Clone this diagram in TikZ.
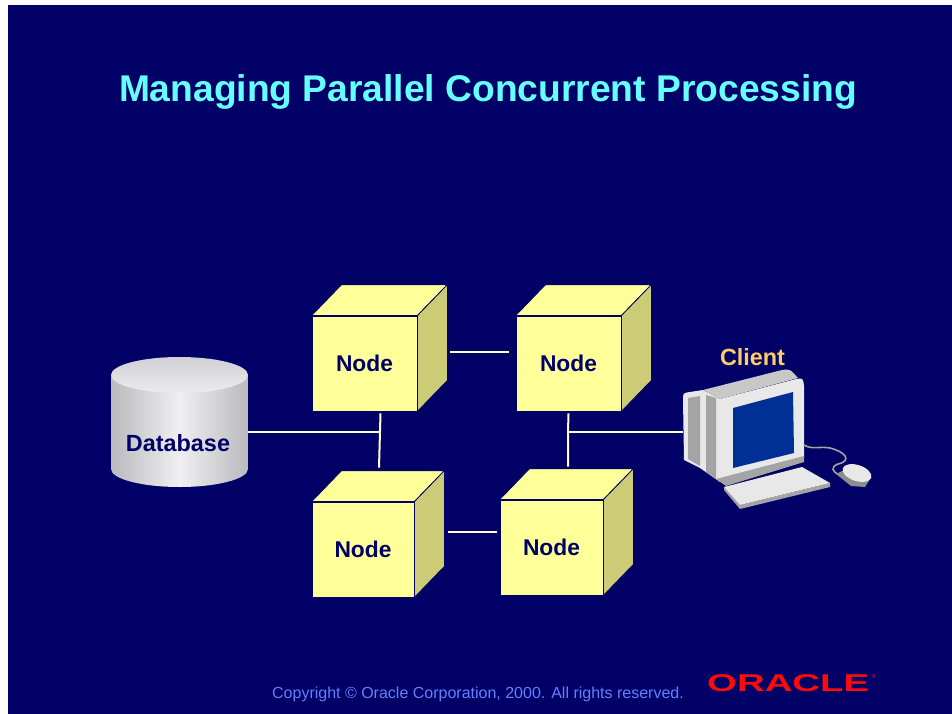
\documentclass[tikz,border=0pt]{standalone}
\usepackage{fontspec}
\setmainfont{Liberation Sans}
\usetikzlibrary{calc}

\definecolor{slidebg}{RGB}{0,0,102}
\definecolor{titlecol}{RGB}{102,255,255}
\definecolor{cubeFrontCol}{RGB}{255,255,153}
\definecolor{cubeSideCol}{RGB}{204,204,119}
\definecolor{labelnavy}{RGB}{0,0,102}
\definecolor{linkcol}{RGB}{255,255,224}
\definecolor{clientcol}{RGB}{255,204,102}
\definecolor{footcol}{RGB}{100,128,255}
\definecolor{oraclered}{RGB}{255,10,10}
\definecolor{dbEdgeCol}{RGB}{186,186,190}
\definecolor{dbMidCol}{RGB}{240,240,242}
\definecolor{dbTopA}{RGB}{208,208,212}
\definecolor{dbTopB}{RGB}{236,236,238}
\definecolor{pcLight}{RGB}{232,232,232}
\definecolor{pcMid}{RGB}{200,200,200}
\definecolor{pcDark}{RGB}{164,164,164}
\definecolor{pcDarker}{RGB}{140,140,140}
\definecolor{screenblue}{RGB}{0,48,150}

\begin{document}
\begin{tikzpicture}[x=1pt,y=-1pt,
  cube/.style={draw=slidebg, line width=0.8pt, fill=cubeFrontCol,
    minimum width=105pt, minimum height=95pt, inner sep=0pt,
    font=\fontsize{22.8}{26}\selectfont\bfseries, text=labelnavy},
  cubetop/.style={draw=slidebg, line width=0.8pt, fill=cubeFrontCol, line join=round},
  cubeflank/.style={draw=slidebg, line width=0.8pt, fill=cubeSideCol, line join=round},
  link/.style={draw=linkcol, line width=2pt},
  cable/.style={draw=pcDark, line width=1.6pt, line cap=round},
  boldlabel/.style={font=\fontsize{23.4}{26}\selectfont\bfseries, inner sep=0pt},
]
% page and slide background
\useasboundingbox (0,0) rectangle (952,714);
\fill[white] (0,0) rectangle (952,714);
\fill[slidebg] (8,5) rectangle (952,714);

% title
\node[anchor=base, text=titlecol, font=\fontsize{37.2}{44}\selectfont\bfseries, inner sep=0pt]
  (title) at (488,102) {Managing Parallel Concurrent Processing};

% the four processing nodes (front faces)
\node[cube] (n1) at (364.5,363.5) {Node};
\node[cube] (n2) at (568.5,363.5) {Node};
\node[cube, minimum width=102pt] (n3) at (363,549.5) {Node};
\node[cube, minimum width=103pt] (n4) at (551.5,547.5) {Node};

% top and side faces of the cubes
\foreach \n in {n1,n2,n3,n4}{
  \filldraw[cubetop] (\n.north west) -- ($(\n.north west)+(30,-31)$)
    -- ($(\n.north east)+(30,-31)$) -- (\n.north east) -- cycle;
  \filldraw[cubeflank] (\n.north east) -- ($(\n.north east)+(30,-31)$)
    -- ($(\n.south east)+(30,-31)$) -- (\n.south east) -- cycle;
}

% database cylinder
\node[minimum width=137pt, minimum height=130pt, inner sep=0pt] (db) at (179.5,422) {};
\shade[left color=dbEdgeCol, right color=dbEdgeCol, middle color=dbMidCol]
  (111,375) -- (111,469) arc[start angle=180, end angle=360, x radius=68.5pt, y radius=18pt]
  -- (248,375) -- cycle;
\shade[top color=dbTopA, bottom color=dbTopB]
  (179.5,375) ellipse[x radius=68.5pt, y radius=18pt];
\node[boldlabel, text=labelnavy] (dblabel) at (178,443) {Database};

% client workstation
\node[boldlabel, text=clientcol] (clientlabel) at (752.5,357) {Client};
\node[minimum width=187pt, minimum height=140pt, inner sep=0pt] (pc) at (776.5,440) {};
% monitor casing
\fill[pcLight] (683,400) .. controls (683,393) .. (690,392) -- (703,390) -- (720,399)
  -- (720,482) -- (700,468) -- (684,460) -- cycle;
\fill[pcDark] (688,398) -- (700,396) -- (700,466) -- (688,459) -- cycle;
\fill[pcDark] (706,395) -- (716,398) -- (716,479) -- (706,472) -- cycle;
\fill[pcMid] (703,390) -- (782,370) .. controls (790,369) .. (798,378) -- (720,399) -- cycle;
% bezel and screen
\fill[pcLight] (720,399) -- (796,379) .. controls (803,378) .. (804,386) -- (804,457)
  -- (720,480) -- cycle;
\fill[pcDark] (716,479) -- (804,456) -- (804,462) -- (726,486) -- cycle;
\fill[screenblue] (733,408) -- (793,392) -- (794,453) -- (733,468) -- cycle;
% keyboard
\fill[pcDark] (724,487) -- (740,505) -- (830,483) -- (830,487) -- (740,509) -- (724,490) -- cycle;
\fill[pcLight] (724,487) -- (802,467) -- (830,483) -- (740,505) -- cycle;
% mouse and cable
\draw[cable] (804,445) .. controls (812,450) and (820,446) .. (830,448)
  .. controls (846,452) and (852,461) .. (838,464)
  .. controls (830,467) and (832,472) .. (840,475);
\fill[pcDarker] (836,474) -- (846,469) -- (870,479) -- (865,487) -- (851,486) -- cycle;
\fill[pcLight, rotate around={-18:(857,473)}] (857,473) ellipse[x radius=15pt, y radius=8pt];

% network connections
\coordinate (j1) at (380,432);
\coordinate (j2) at (568,432);
\draw[link] ($(n1.east)+(33,-12)$) -- ($(n2.west)+(-7,-12)$);
\draw[link] ($(n1.south)+(16,2)$) -- ($(n3.north)+(16,-34)$);
\draw[link] (db.east |- j1) -- (j1);
\draw[link] ($(n2.south)+(0,2)$) -- (j2) -- ($(n4.north)+(16.5,-33)$);
\draw[link] (j2) -- (pc.west |- j2);
\draw[link] ($(n3.east)+(34,-18)$) -- ($(n4.west)+(-3,-16)$);

% footer
\node[anchor=base, text=footcol, font=\fontsize{16}{19}\selectfont, inner sep=0pt]
  (copyright) at (478,698) {Copyright \textcopyright{} Oracle Corporation, 2000. All rights reserved.};
\node[anchor=west, inner sep=0pt, text=oraclered] (logo) at (707,683.5)
  {\resizebox{162pt}{17pt}{\bfseries ORACLE}};
\node[inner sep=0pt, text=oraclered, font=\fontsize{6}{7}\selectfont] (reg) at (874,676) {\textregistered};
\end{tikzpicture}
\end{document}
